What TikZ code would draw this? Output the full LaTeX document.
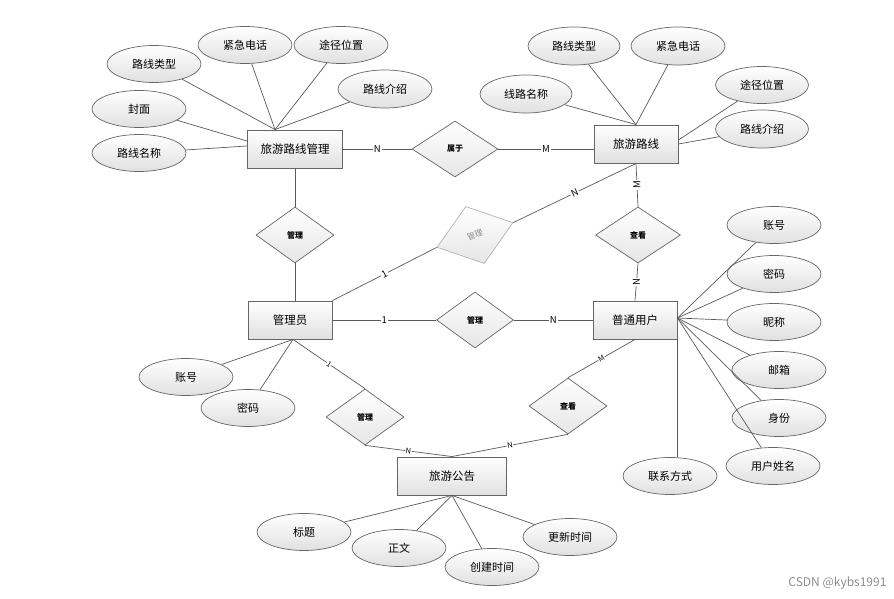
\documentclass[tikz,border=0pt]{standalone}
\usepackage{fontspec}
\newfontfamily\cjk{Noto Sans CJK SC}
\usetikzlibrary{shapes.geometric}

\begin{document}
\begin{tikzpicture}[x=1pt, y=-1pt,
  entity/.style={rectangle, draw=black!60, line width=0.9pt, top color=white, bottom color=black!12,
    minimum width=84pt, minimum height=38pt, inner sep=0pt, font=\cjk\fontsize{11.5}{12}\selectfont},
  attr/.style={ellipse, draw=black!60, line width=0.7pt, top color=white, bottom color=black!12,
    minimum width=94pt, minimum height=37pt, inner sep=0pt, font=\cjk\fontsize{11}{12}\selectfont},
  rel/.style={diamond, draw=black!60, line width=0.7pt, top color=white, bottom color=black!10,
    minimum width=78pt, minimum height=56pt, inner sep=0pt, font=\cjk\bfseries\fontsize{8}{9}\selectfont},
  card/.style={fill=white, inner sep=1pt, font=\cjk\fontsize{9.5}{10}\selectfont},
  tiny/.style={fill=white, inner sep=0.5pt, font=\cjk\fontsize{7.5}{8}\selectfont},
  lnk/.style={draw=black!65, line width=0.7pt}]
  \useasboundingbox (0,0) rectangle (894,599);

  % entities
  \node[entity, minimum width=95pt] (rm) at (295,149) {旅游路线管理};
  \node[entity] (route) at (636,144) {旅游路线};
  \node[entity] (admin) at (290,320) {管理员};
  \node[entity] (user) at (635,320) {普通用户};
  \node[entity, minimum width=109pt] (notice) at (452,476) {旅游公告};

  % relations
  \node[rel, minimum width=86pt] (belong) at (455,149) {属于};
  \node[rel] (mgr1) at (295,235) {管理};
  \node[rel, minimum width=80pt, minimum height=60pt, rotate=18, draw=black!30, text=black!45,
    font=\cjk\fontsize{8}{9}\selectfont] (mgr2) at (475,235) {管理};
  \node[rel, minimum width=85pt] (view1) at (638,235) {查看};
  \node[rel, minimum width=77pt] (mgr3) at (475,320) {管理};
  \node[rel] (mgr4) at (365,417) {管理};
  \node[rel] (view2) at (568,406) {查看};

  % attributes of 旅游路线管理
  \node[attr] (rmtype) at (154,64) {路线类型};
  \node[attr] (rmtel) at (245,45) {紧急电话};
  \node[attr] (rmpos) at (341,45) {途径位置};
  \node[attr, minimum height=38pt] (rmintro) at (385,89) {路线介绍};
  \node[attr] (rmcover) at (139,109) {封面};
  \node[attr] (rmname) at (139,153) {路线名称};
  \coordinate (rmtop) at ([xshift=-20pt]rm.north);
  \foreach \a in {rmtype, rmtel, rmpos, rmintro}
    \draw[lnk] (\a) -- (rmtop);
  \draw[lnk] (rmcover) -- ([yshift=8pt]rm.west);
  \draw[lnk] (rmname) -- ([yshift=3pt]rm.west);

  % attributes of 旅游路线
  \node[attr, minimum width=92pt, minimum height=38pt] (rttype) at (574,46) {路线类型};
  \node[attr, minimum height=38pt] (rttel) at (678,46) {紧急电话};
  \node[attr, minimum width=92pt, minimum height=38pt] (rtname) at (526,94) {线路名称};
  \node[attr, minimum width=93pt] (rtpos) at (762,85) {途径位置};
  \node[attr, minimum width=93pt, minimum height=38pt] (rtintro) at (762,129) {路线介绍};
  \foreach \a in {rttype, rttel, rtname}
    \draw[lnk] (\a) -- (route.north);
  \draw[lnk] (rtpos) -- ([yshift=4pt]route.east);
  \draw[lnk] (rtintro) -- (route.east);

  % attributes of 普通用户
  \node[attr] (uacc) at (774,225) {账号};
  \node[attr] (upwd) at (774,274) {密码};
  \node[attr] (unick) at (774,322) {昵称};
  \node[attr] (umail) at (779,370) {邮箱};
  \node[attr] (uid) at (779,418) {身份};
  \node[attr] (uname) at (773,466) {用户姓名};
  \node[attr] (utel) at (670,476) {联系方式};
  \foreach \a in {uacc, upwd, unick, umail, uid, uname}
    \draw[lnk] (\a) -- ([yshift=2pt]user.east);
  \draw[lnk] (user.south east) -- (user.south east |- utel.north);

  % attributes of 管理员
  \node[attr] (aacc) at (186,377) {账号};
  \node[attr] (apwd) at (248,408) {密码};
  \draw[lnk] (aacc) -- ([xshift=3pt]admin.south);
  \draw[lnk] (apwd) -- ([xshift=3pt]admin.south);

  % attributes of 旅游公告
  \node[attr] (ntitle) at (304,532) {标题};
  \node[attr] (ntext) at (399,548) {正文};
  \node[attr] (ncreate) at (492,567) {创建时间};
  \node[attr] (nupdate) at (570,537) {更新时间};
  \foreach \a in {ntitle, ntext, ncreate, nupdate}
    \draw[lnk] (\a) -- (notice.south);

  % links
  \draw[lnk] (rm) -- node[card] {N} (belong);
  \draw[lnk] (belong.east) -- node[card] {M} (belong.east -| route.west);
  \draw[lnk] (rm) -- (mgr1);
  \draw[lnk] (mgr1.south) -- (mgr1.south |- admin.north);
  \draw[lnk] (admin.north east) -- node[card, sloped] {1} (mgr2.west);
  \draw[lnk] (mgr2.east) -- node[card, sloped] {N} (route.south);
  \draw[lnk] (route.south) -- node[card, rotate=90] {M} (view1.north);
  \draw[lnk] (view1.south) -- node[card, rotate=90] {N} (user.north);
  \draw[lnk] (admin) -- node[card] {1} (mgr3);
  \draw[lnk] (mgr3) -- node[card] {N} (user);
  \draw[lnk] ([xshift=3pt]admin.south) -- node[tiny, sloped] {1} (mgr4.north);
  \draw[lnk] (mgr4.south) -- node[tiny, sloped] {N} (notice.north);
  \draw[lnk] (view2.south) -- node[tiny, sloped] {N} (notice.north);
  \draw[lnk] (view2.north) -- node[tiny, sloped] {M} (user.south);

  \node[anchor=east, text=black!45, font=\cjk\fontsize{12}{14}\selectfont] (mark) at (890,583) {CSDN @kybs1991};
\end{tikzpicture}
\end{document}
